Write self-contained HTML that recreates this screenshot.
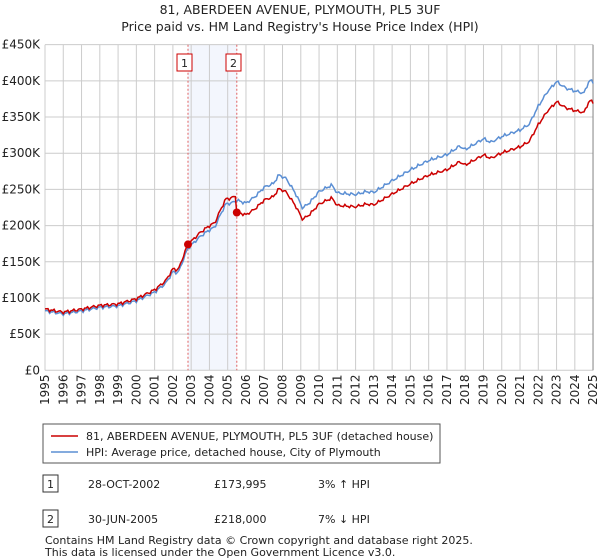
<!DOCTYPE html>
<html><head><meta charset="utf-8"><style>
body{margin:0;background:#fff;font-family:"DejaVu Sans","Liberation Sans",sans-serif;}
svg{display:block}
text{font-family:"DejaVu Sans","Liberation Sans",sans-serif;fill:#222}
</style></head><body>
<svg id="s" width="600" height="560" xmlns="http://www.w3.org/2000/svg">
<text x="300" y="14" font-size="12.5" text-anchor="middle">81, ABERDEEN AVENUE, PLYMOUTH, PL5 3UF</text>
<text x="300" y="31" font-size="12.5" text-anchor="middle">Price paid vs. HM Land Registry's House Price Index (HPI)</text>
<rect x="188" y="44.7" width="49" height="325.6" fill="#f3f6fd"/>
<g id="grid" stroke="#cccccc" stroke-width="1"></g>
<g id="lab" font-size="12"></g>
<line x1="593" y1="44.7" x2="593" y2="370.3" stroke="#888"/>
<line x1="188" y1="44.7" x2="188" y2="370.3" stroke="#e06060" stroke-dasharray="2,2"/>
<line x1="236.8" y1="44.7" x2="236.8" y2="370.3" stroke="#e06060" stroke-dasharray="2,2"/>
<rect x="177" y="54" width="15" height="17" fill="#fff" stroke="#cc0000"/>
<text x="184.5" y="67" font-size="11" text-anchor="middle">1</text>
<rect x="226" y="54" width="15" height="17" fill="#fff" stroke="#cc0000"/>
<text x="233.5" y="67" font-size="11" text-anchor="middle">2</text>
<path id="blue" fill="none" stroke="#5b8fd4" stroke-width="1.5"/>
<path id="red" fill="none" stroke="#cc0000" stroke-width="1.5"/>
<circle cx="188" cy="244.4" r="4" fill="#cc0000"/>
<circle cx="236.8" cy="212.5" r="4" fill="#cc0000"/>
<rect x="43" y="424" width="397" height="39" fill="#fff" stroke="#555"/>
<line x1="51" y1="436" x2="78" y2="436" stroke="#cc0000" stroke-width="1.5"/>
<text x="86" y="440" font-size="11">81, ABERDEEN AVENUE, PLYMOUTH, PL5 3UF (detached house)</text>
<line x1="51" y1="452" x2="78" y2="452" stroke="#5b8fd4" stroke-width="1.5"/>
<text x="86" y="456" font-size="11">HPI: Average price, detached house, City of Plymouth</text>
<rect x="43" y="475" width="15" height="17" fill="#fff" stroke="#333"/>
<text x="50.5" y="488" font-size="11" text-anchor="middle">1</text>
<text x="88" y="488" font-size="11">28-OCT-2002</text>
<text x="214" y="488" font-size="11">£173,995</text>
<text x="318" y="488" font-size="11">3% ↑ HPI</text>
<rect x="43" y="510" width="15" height="17" fill="#fff" stroke="#333"/>
<text x="50.5" y="523" font-size="11" text-anchor="middle">2</text>
<text x="88" y="523" font-size="11">30-JUN-2005</text>
<text x="214" y="523" font-size="11">£218,000</text>
<text x="318" y="523" font-size="11">7% ↓ HPI</text>
<text x="45" y="544" font-size="11">Contains HM Land Registry data © Crown copyright and database right 2025.</text>
<text x="45" y="556" font-size="11">This data is licensed under the Open Government Licence v3.0.</text>
</svg>
<script>
var X=function(y){return 45+(y-1995)*18.27},Y=function(v){return 370.3-v/50*36.18};
var g=document.getElementById('grid'),l=document.getElementById('lab'),h='';
for(var i=0;i<=30;i++){var x=X(1995+i);h+='<line x1="'+x+'" y1="44.7" x2="'+x+'" y2="370.3"/>';}
var lb=['£0','£50K','£100K','£150K','£200K','£250K','£300K','£350K','£400K','£450K'];
for(var j=0;j<=9;j++){var y=Y(j*50);h+='<line x1="45" y1="'+y+'" x2="593" y2="'+y+'"/>';}
g.innerHTML=h;var t='';
for(var j=0;j<=9;j++){t+='<text x="40" y="'+(Y(j*50)+4)+'" text-anchor="end">'+lb[j]+'</text>';}
for(var i=0;i<=30;i++){var x=X(1995+i)+4;t+='<text transform="translate('+x+',405) rotate(-90)">'+(1995+i)+'</text>';}
l.innerHTML=t;
var d=[[1995,82],[1996,78],[1996.5,80],[1997,82],[1998,87],[1999,89],[2000,96],[2001,108],[2001.6,120],[2002,136],[2002.3,135],[2002.8,168],[2003.5,185],[2004,194],[2004.3,198],[2004.6,215],[2004.9,230],[2005.2,231],[2005.5,235],[2006,231],[2006.5,240],[2007,253],[2007.5,258],[2007.8,270],[2008.2,265],[2008.7,245],[2009.1,224],[2009.5,232],[2010,247],[2010.7,256],[2011,245],[2012,243],[2012.6,247],[2013,246],[2014,262],[2015,277],[2016,290],[2017,298],[2017.7,310],[2018,305],[2019,320],[2019.4,315],[2020,323],[2021,332],[2021.5,340],[2022,365],[2022.5,385],[2023,399],[2023.5,390],[2024,386],[2024.5,383],[2024.8,401],[2025,398]];
function interp(y){for(var k=1;k<d.length;k++){if(y<=d[k][0]){var a=d[k-1],b=d[k];return a[1]+(b[1]-a[1])*(y-a[0])/(b[0]-a[0]);}}return d[d.length-1][1];}
var pb='',pr='';
for(var y=1995;y<=2025.001;y+=1/12){var v=interp(y)+1.5*Math.sin(y*17.3)+1*Math.sin(y*41);
var f=y<2005.45?1.03:0.93;
pb+=(pb?'L':'M')+X(y).toFixed(1)+','+Y(v).toFixed(1);
pr+=(pr?'L':'M')+X(y).toFixed(1)+','+Y(v*f).toFixed(1);}
document.getElementById('blue').setAttribute('d',pb);
document.getElementById('red').setAttribute('d',pr);
</script>
</body></html>
